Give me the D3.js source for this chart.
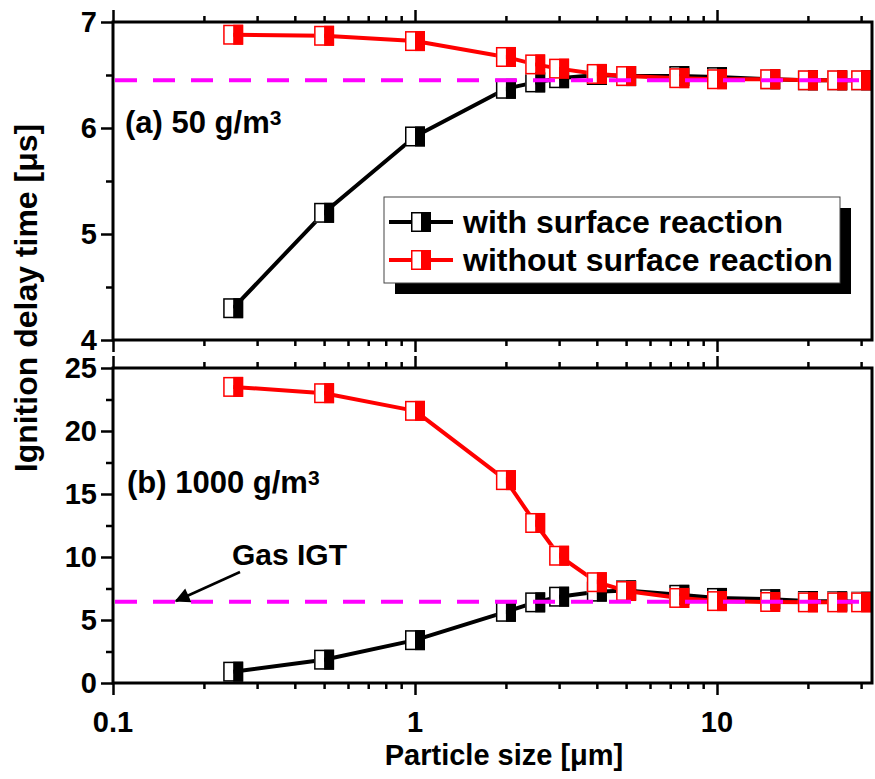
<!DOCTYPE html>
<html>
<head>
<meta charset="utf-8">
<script src="https://cdn.jsdelivr.net/npm/d3@7/dist/d3.min.js"></script>
<style>
    body { margin: 0; background: #fff; }
    svg text { font-family: "Liberation Sans", Arial, sans-serif; font-weight: bold; fill: #000; }
</style>
</head>
<body>
<div id="chart"></div>
<script>
// particle sizes [um]
const sizes = [0.25, 0.5, 1, 2, 2.5, 3, 4, 5, 7.5, 10, 15, 20, 25, 30];

// (a) 50 g/m3
const withSurfA = [4.30, 5.20, 5.92, 6.37, 6.43, 6.47, 6.50, 6.49, 6.49, 6.48, 6.46, 6.45, 6.45, 6.45];
const withoutSurfA = [6.88, 6.87, 6.82, 6.67, 6.60, 6.56, 6.51, 6.49, 6.47, 6.46, 6.46, 6.45, 6.45, 6.45];

// (b) 1000 g/m3
const withSurfB = [0.9, 1.85, 3.4, 5.65, 6.4, 6.85, 7.25, 7.35, 7.0, 6.75, 6.65, 6.5, 6.48, 6.45];
const withoutSurfB = [23.5, 23.0, 21.6, 16.1, 12.7, 10.1, 8.0, 7.3, 6.75, 6.5, 6.43, 6.4, 6.4, 6.4];

const gasIGT = 6.45;

const seriesNames = ["with surface reaction", "without surface reaction"];
const seriesColors = ["#000000", "#ff0000"];

const xMajor = [0.1, 1, 10];
const xMinor = [0.2, 0.3, 0.4, 0.5, 0.6, 0.7, 0.8, 0.9, 2, 3, 4, 5, 6, 7, 8, 9, 20, 30];
const xLabels = ["0.1", "1", "10"];

const yMajorA = [4, 5, 6, 7];
const yMinorA = [4.5, 5.5, 6.5];
const yMajorB = [0, 5, 10, 15, 20, 25];
const yMinorB = [2.5, 7.5, 12.5, 17.5, 22.5];

const W = 875, H = 779;
const left = 113, right = 872;

const svg = d3.select("#chart").append("svg")
    .attr("width", W).attr("height", H);

svg.append("defs").append("marker")
    .attr("id", "arrow")
    .attr("viewBox", "0 0 10 10")
    .attr("refX", 9).attr("refY", 5)
    .attr("markerWidth", 8).attr("markerHeight", 6)
    .attr("markerUnits", "strokeWidth")
    .attr("orient", "auto")
    .append("path").attr("d", "M0,0 L10,5 L0,10 Z").attr("fill", "#000");

const x = d3.scaleLog().domain([0.1, 32.6]).range([left, right]);

const panels = [
    {top: 22, bottom: 340, domain: [4, 7], major: yMajorA, minor: yMinorA,
     series: [withSurfA, withoutSurfA]},
    {top: 368, bottom: 683, domain: [0, 25], major: yMajorB, minor: yMinorB,
     series: [withSurfB, withoutSurfB]}
];

function drawMarker(g, color) {
    g.append("rect").attr("x", -10).attr("y", -10).attr("width", 10).attr("height", 20)
        .attr("fill", "#fff");
    g.append("rect").attr("x", 0).attr("y", -10).attr("width", 10).attr("height", 20)
        .attr("fill", color);
    g.append("rect").attr("x", -9.25).attr("y", -9.25).attr("width", 18.5).attr("height", 18.5)
        .attr("fill", "none").attr("stroke", color).attr("stroke-width", 1.5);
}

panels.forEach((p, pi) => {
    const y = d3.scaleLinear().domain(p.domain).range([p.bottom, p.top]);
    const g = svg.append("g").attr("class", "panel-" + pi);

    // ticks (outward, no labels)
    const tickAxis = (axis, tr, vals, size) => {
        const a = g.append("g").attr("transform", tr)
            .call(axis.tickValues(vals).tickSize(size).tickSizeOuter(0).tickFormat(""));
        a.select(".domain").remove();
        a.selectAll("line").attr("stroke", "#000").attr("stroke-width", 2.5);
        return a;
    };
    tickAxis(d3.axisLeft(y), `translate(${left},0)`, p.major, 12);
    tickAxis(d3.axisLeft(y), `translate(${left},0)`, p.minor, 7);
    tickAxis(d3.axisTop(x), `translate(0,${p.top})`, xMajor, 12);
    tickAxis(d3.axisTop(x), `translate(0,${p.top})`, xMinor, 6);
    tickAxis(d3.axisBottom(x), `translate(0,${p.bottom})`, xMajor, 12);
    tickAxis(d3.axisBottom(x), `translate(0,${p.bottom})`, xMinor, 6);

    g.selectAll(".ylab").data(p.major).enter().append("text")
        .attr("class", "ylab")
        .attr("x", 97).attr("y", d => y(d)).attr("dy", "0.36em")
        .attr("text-anchor", "end").attr("font-size", 29)
        .text(d => d);

    // series
    p.series.forEach((vals, si) => {
        const pts = sizes.map((s, i) => [x(s), y(vals[i])]);
        g.append("path").datum(pts)
            .attr("d", d3.line())
            .attr("fill", "none")
            .attr("stroke", seriesColors[si])
            .attr("stroke-width", 4)
            .attr("stroke-linejoin", "round");
        g.selectAll(".m" + si).data(pts).enter().append("g")
            .attr("class", "m" + si)
            .attr("transform", d => `translate(${d[0]},${d[1]})`)
            .each(function () { drawMarker(d3.select(this), seriesColors[si]); });
    });

    // gas ignition time
    g.append("line")
        .attr("x1", left + 2).attr("x2", right - 2)
        .attr("y1", y(gasIGT)).attr("y2", y(gasIGT))
        .attr("stroke", "#ff00ff").attr("stroke-width", 4)
        .attr("stroke-dasharray", "22,16");

    g.append("rect")
        .attr("x", left).attr("y", p.top)
        .attr("width", right - left).attr("height", p.bottom - p.top)
        .attr("fill", "none").attr("stroke", "#000").attr("stroke-width", 3);
});

// x tick labels
svg.selectAll(".xlab").data(xMajor).enter().append("text")
    .attr("class", "xlab")
    .attr("x", d => x(d)).attr("y", 732)
    .attr("text-anchor", "middle").attr("font-size", 29)
    .text((d, i) => xLabels[i]);

svg.append("text")
    .attr("x", 504).attr("y", 765)
    .attr("text-anchor", "middle").attr("font-size", 29)
    .text("Particle size [μm]");

svg.append("text")
    .attr("transform", "translate(37,298) rotate(-90)")
    .attr("text-anchor", "middle").attr("font-size", 32)
    .text("Ignition delay time [μs]");

// panel labels
const labA = svg.append("text").attr("x", 125).attr("y", 133).attr("font-size", 31);
labA.append("tspan").text("(a) 50 g/m");
labA.append("tspan").attr("font-size", 21).attr("dy", -8).text("3");

const labB = svg.append("text").attr("x", 127).attr("y", 493).attr("font-size", 31);
labB.append("tspan").text("(b) 1000 g/m");
labB.append("tspan").attr("font-size", 21).attr("dy", -8).text("3");

// Gas IGT annotation
svg.append("text").attr("x", 232).attr("y", 565).attr("font-size", 30).text("Gas IGT");
svg.append("line")
    .attr("x1", 240).attr("y1", 572)
    .attr("x2", 176).attr("y2", 601)
    .attr("stroke", "#000").attr("stroke-width", 2.5)
    .attr("marker-end", "url(#arrow)");

// legend
const leg = svg.append("g").attr("transform", "translate(384,197)");
leg.append("rect").attr("x", 11).attr("y", 11).attr("width", 456).attr("height", 86)
    .attr("fill", "#000");
leg.append("rect").attr("x", 0).attr("y", 0).attr("width", 456).attr("height", 86)
    .attr("fill", "#fff").attr("stroke", "#444").attr("stroke-width", 1);
seriesNames.forEach((name, i) => {
    const ry = 25 + i * 38;
    leg.append("line").attr("x1", 5).attr("x2", 69).attr("y1", ry).attr("y2", ry)
        .attr("stroke", seriesColors[i]).attr("stroke-width", 4);
    drawMarker(leg.append("g").attr("transform", `translate(37,${ry})`), seriesColors[i]);
    leg.append("text").attr("x", 79).attr("y", ry + 11).attr("font-size", 32).text(name);
});
</script>
</body>
</html>
